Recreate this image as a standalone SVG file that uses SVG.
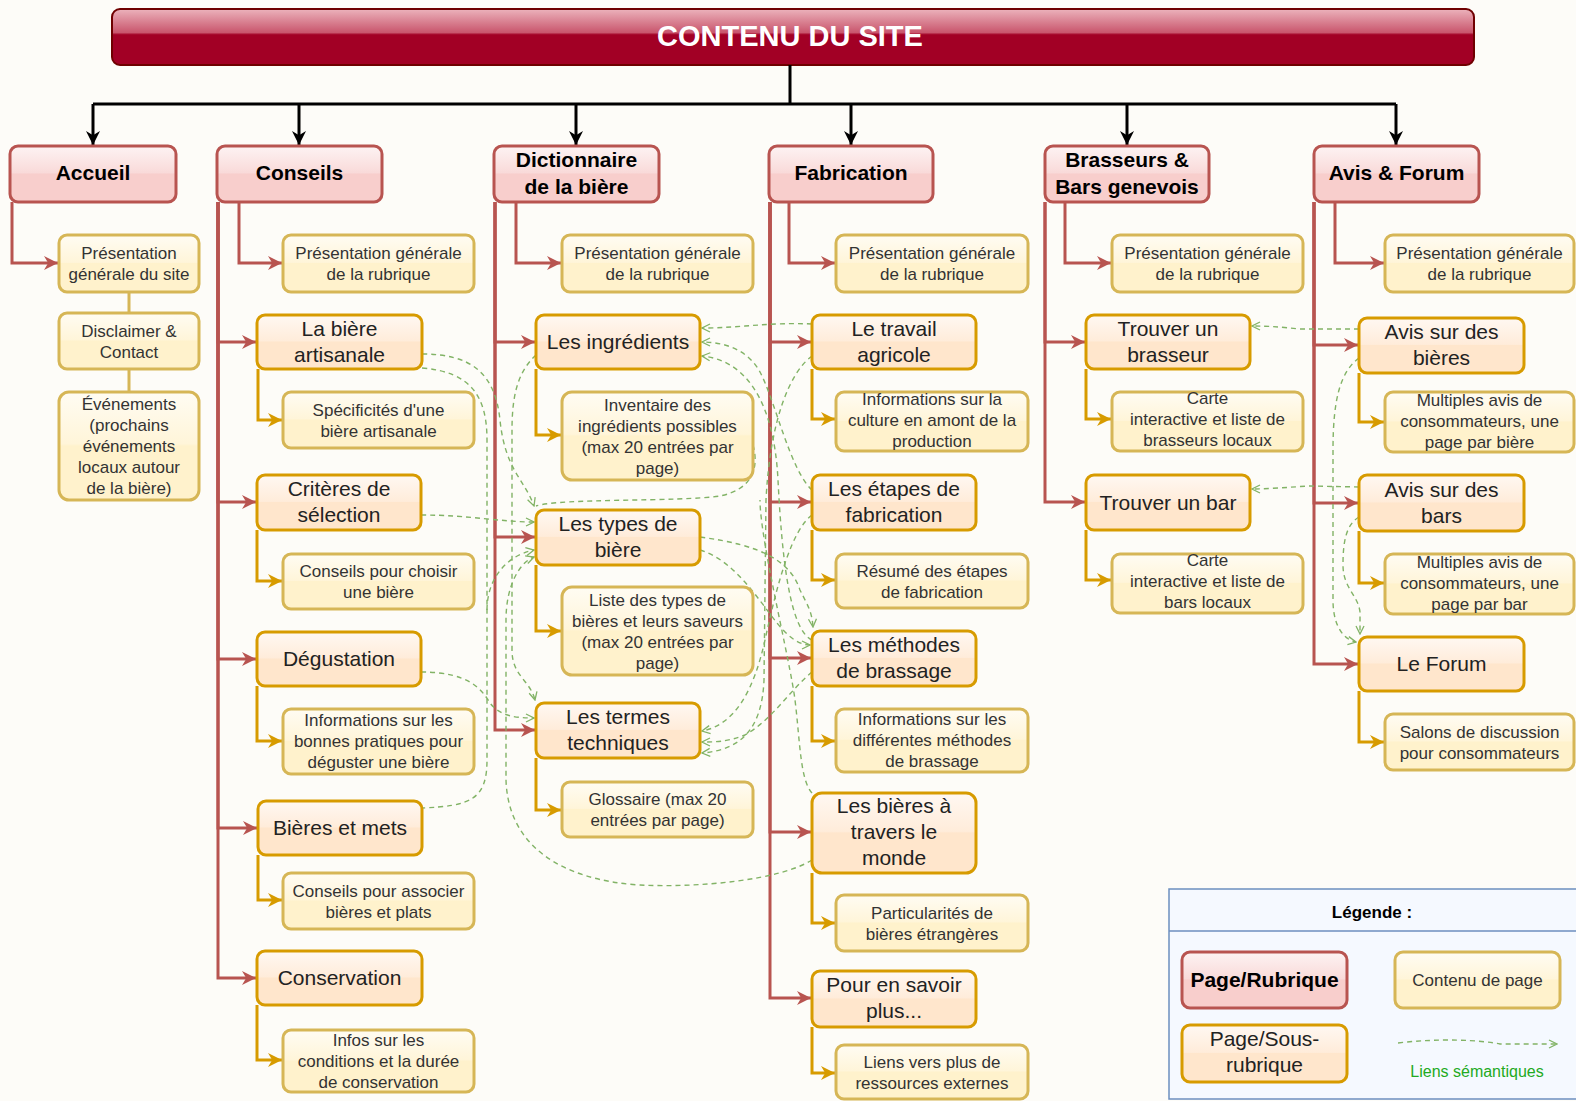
<svg xmlns="http://www.w3.org/2000/svg" width="1576" height="1101" viewBox="0 0 1576 1101">
<defs>
<linearGradient id="gTitle" x1="0" y1="0" x2="0" y2="1">
<stop offset="0" stop-color="#ecb3bc"/><stop offset="0.42" stop-color="#c9566d"/><stop offset="0.46" stop-color="#a20025"/><stop offset="1" stop-color="#a20025"/>
</linearGradient>
<linearGradient id="gRub" x1="0" y1="0" x2="0" y2="1">
<stop offset="0" stop-color="#fdf3f3"/><stop offset="0.48" stop-color="#f9dad9"/><stop offset="0.5" stop-color="#f8cecc"/><stop offset="1" stop-color="#f8cecc"/>
</linearGradient>
<linearGradient id="gSub" x1="0" y1="0" x2="0" y2="1">
<stop offset="0" stop-color="#fff8f2"/><stop offset="0.48" stop-color="#ffecda"/><stop offset="0.5" stop-color="#ffe6cc"/><stop offset="1" stop-color="#ffe6cc"/>
</linearGradient>
<linearGradient id="gCon" x1="0" y1="0" x2="0" y2="1">
<stop offset="0" stop-color="#fffcf3"/><stop offset="0.48" stop-color="#fff5d9"/><stop offset="0.5" stop-color="#fff2cc"/><stop offset="1" stop-color="#fff2cc"/>
</linearGradient>
<marker id="aBlack" viewBox="0 0 10 10" refX="10" refY="5" markerUnits="userSpaceOnUse" markerWidth="14" markerHeight="14" orient="auto"><path d="M0,0 L10,5 L0,10 L3,5 z" fill="#000"/></marker>
<marker id="aRed" viewBox="0 0 10 10" refX="10" refY="5" markerUnits="userSpaceOnUse" markerWidth="14" markerHeight="14" orient="auto"><path d="M0,0 L10,5 L0,10 L3,5 z" fill="#b85450"/></marker>
<marker id="aOr" viewBox="0 0 10 10" refX="10" refY="5" markerUnits="userSpaceOnUse" markerWidth="14" markerHeight="14" orient="auto"><path d="M0,0 L10,5 L0,10 L3,5 z" fill="#d79b00"/></marker>
<marker id="aGr" viewBox="0 0 10 10" refX="9" refY="5" markerUnits="userSpaceOnUse" markerWidth="10" markerHeight="10" orient="auto"><path d="M1,1 L9,5 L1,9" fill="none" stroke="#82b366" stroke-width="1.3"/></marker>
</defs>
<style>
text{font-family:"Liberation Sans",Arial,sans-serif;text-anchor:middle}
.rub rect{fill:url(#gRub);stroke:#b85450;stroke-width:3}
.sub rect{fill:url(#gSub);stroke:#d79b00;stroke-width:3}
.con rect{fill:url(#gCon);stroke:#d6b656;stroke-width:3}
.rub text{font-size:21px;font-weight:bold;fill:#000}
.sub text{font-size:21px;fill:#222}
.con text{font-size:17px;fill:#333}
.blk{fill:none;stroke:#000;stroke-width:3}
.red{fill:none;stroke:#b85450;stroke-width:3}
.org{fill:none;stroke:#d79b00;stroke-width:3}
.yel{fill:none;stroke:#d6b656;stroke-width:3}
.sem{fill:none;stroke:#82b366;stroke-width:1.4;stroke-dasharray:5 4}
</style>
<rect x="0" y="0" width="1576" height="1101" fill="#fdfcf8"/>

<g id="title">
<rect x="112" y="9" width="1362" height="56" rx="8" fill="url(#gTitle)" stroke="#6f0000" stroke-width="2"/>
<text x="790" y="46" font-size="29" font-weight="bold" fill="#fff">CONTENU DU SITE</text>
</g>

<g id="connectors">
<path class="blk" d="M790,65 V104"/>
<path class="blk" d="M93,104 H1396"/>
<path class="blk" d="M93,104 V145" marker-end="url(#aBlack)"/>
<path class="blk" d="M299,104 V145" marker-end="url(#aBlack)"/>
<path class="blk" d="M576,104 V145" marker-end="url(#aBlack)"/>
<path class="blk" d="M851,104 V145" marker-end="url(#aBlack)"/>
<path class="blk" d="M1127,104 V145" marker-end="url(#aBlack)"/>
<path class="blk" d="M1396,104 V145" marker-end="url(#aBlack)"/>

<path class="red" d="M12,202 V263 H58" marker-end="url(#aRed)"/>
<path class="red" d="M239,202 V263 H282" marker-end="url(#aRed)"/>
<path class="red" d="M218,202 V342 H256" marker-end="url(#aRed)"/>
<path class="red" d="M218,202 V502 H256" marker-end="url(#aRed)"/>
<path class="red" d="M218,202 V659 H256" marker-end="url(#aRed)"/>
<path class="red" d="M218,202 V828 H257" marker-end="url(#aRed)"/>
<path class="red" d="M218,202 V978 H256" marker-end="url(#aRed)"/>
<path class="red" d="M516,202 V263 H561" marker-end="url(#aRed)"/>
<path class="red" d="M495,202 V342 H535" marker-end="url(#aRed)"/>
<path class="red" d="M495,202 V537 H535" marker-end="url(#aRed)"/>
<path class="red" d="M495,202 V730 H535" marker-end="url(#aRed)"/>
<path class="red" d="M789,202 V263 H835" marker-end="url(#aRed)"/>
<path class="red" d="M770,202 V342 H811" marker-end="url(#aRed)"/>
<path class="red" d="M770,202 V502 H811" marker-end="url(#aRed)"/>
<path class="red" d="M770,202 V658 H811" marker-end="url(#aRed)"/>
<path class="red" d="M770,202 V832 H811" marker-end="url(#aRed)"/>
<path class="red" d="M770,202 V998 H811" marker-end="url(#aRed)"/>
<path class="red" d="M1065,202 V263 H1111" marker-end="url(#aRed)"/>
<path class="red" d="M1045,202 V342 H1085" marker-end="url(#aRed)"/>
<path class="red" d="M1045,202 V502 H1085" marker-end="url(#aRed)"/>
<path class="red" d="M1335,202 V263 H1384" marker-end="url(#aRed)"/>
<path class="red" d="M1314,202 V345 H1358" marker-end="url(#aRed)"/>
<path class="red" d="M1314,202 V503 H1358" marker-end="url(#aRed)"/>
<path class="red" d="M1314,202 V664 H1358" marker-end="url(#aRed)"/>

<path class="yel" d="M129,292 V313"/>
<path class="yel" d="M129,369 V392"/>

<path class="org" d="M258,369 V420 H282" marker-end="url(#aOr)"/>
<path class="org" d="M257,530 V581 H282" marker-end="url(#aOr)"/>
<path class="org" d="M257,686 V741 H282" marker-end="url(#aOr)"/>
<path class="org" d="M258,855 V900 H282" marker-end="url(#aOr)"/>
<path class="org" d="M257,1005 V1060 H282" marker-end="url(#aOr)"/>
<path class="org" d="M536,369 V435 H561" marker-end="url(#aOr)"/>
<path class="org" d="M536,565 V631 H561" marker-end="url(#aOr)"/>
<path class="org" d="M536,758 V810 H561" marker-end="url(#aOr)"/>
<path class="org" d="M812,369 V419 H835" marker-end="url(#aOr)"/>
<path class="org" d="M812,530 V580 H835" marker-end="url(#aOr)"/>
<path class="org" d="M812,686 V741 H835" marker-end="url(#aOr)"/>
<path class="org" d="M812,873 V923 H835" marker-end="url(#aOr)"/>
<path class="org" d="M812,1027 V1073 H835" marker-end="url(#aOr)"/>
<path class="org" d="M1086,369 V419 H1111" marker-end="url(#aOr)"/>
<path class="org" d="M1086,530 V580 H1111" marker-end="url(#aOr)"/>
<path class="org" d="M1359,373 V422 H1384" marker-end="url(#aOr)"/>
<path class="org" d="M1359,531 V583 H1384" marker-end="url(#aOr)"/>
<path class="org" d="M1359,691 V742 H1384" marker-end="url(#aOr)"/>

<!-- semantic links -->
<path class="sem" d="M422,354 C470,354 495,372 500,420 C505,470 525,480 534,506" marker-end="url(#aGr)"/>
<path class="sem" d="M422,368 C470,372 487,395 487,440 L487,760 C487,800 470,806 422,808"/>
<path class="sem" d="M421,515 C470,515 500,522 534,522" marker-end="url(#aGr)"/>
<path class="sem" d="M421,672 C470,672 482,690 490,703 C500,716 515,718 534,718" marker-end="url(#aGr)"/>
<path class="sem" d="M536,355 C520,370 512,390 512,430 L512,650 C512,676 530,680 535,700" marker-end="url(#aGr)"/>
<path class="sem" d="M487,610 C487,580 505,556 534,550" marker-end="url(#aGr)"/>
<path class="sem" d="M812,860 C780,880 700,888 640,885 C560,880 508,845 506,780 L506,620 C506,585 520,562 534,557" marker-end="url(#aGr)"/>
<path class="sem" d="M812,324 C770,322 740,328 702,328" marker-end="url(#aGr)"/>
<path class="sem" d="M812,490 C790,470 775,400 760,372 C748,350 725,342 702,342" marker-end="url(#aGr)"/>
<path class="sem" d="M812,640 C790,630 782,560 778,480 C774,400 745,360 702,356" marker-end="url(#aGr)"/>
<path class="sem" d="M753,445 C760,470 750,490 720,496 C680,502 560,498 536,506"/>
<path class="sem" d="M700,537 C760,545 790,560 800,590 C808,606 812,612 813,627" marker-end="url(#aGr)"/>
<path class="sem" d="M700,550 C740,562 765,612 785,632 C795,642 803,645 810,645" marker-end="url(#aGr)"/>
<path class="sem" d="M812,672 C790,690 772,720 745,735 C727,742 715,742 702,742" marker-end="url(#aGr)"/>
<path class="sem" d="M812,515 C792,530 778,580 765,640 C754,690 735,725 702,731" marker-end="url(#aGr)"/>
<path class="sem" d="M812,793 C800,780 800,740 795,700 C790,660 760,540 760,500"/>
<path class="sem" d="M812,356 C790,372 770,420 766,500 L764,680 C762,730 740,750 702,753" marker-end="url(#aGr)"/>
<path class="sem" d="M1359,329 L1300,329 C1280,327 1270,326 1252,326" marker-end="url(#aGr)"/>
<path class="sem" d="M1359,487 L1310,486 C1290,487 1270,489 1252,489" marker-end="url(#aGr)"/>
<path class="sem" d="M1359,358 C1340,372 1333,400 1333,450 L1333,600 C1333,628 1345,640 1356,642" marker-end="url(#aGr)"/>
<path class="sem" d="M1359,517 C1345,525 1343,545 1343,565 C1343,588 1358,595 1360,612 L1360,634" marker-end="url(#aGr)"/>
</g>

<!-- Accueil -->
<g id="accueil" class="rub"><rect x="10" y="146" width="166" height="56" rx="8"/><text x="93" y="180">Accueil</text></g>
<g id="acc-presentation" class="con"><rect x="59" y="235" width="140" height="57" rx="8"/><text x="129" y="259">Présentation</text><text x="129" y="280">générale du site</text></g>
<g id="acc-disclaimer" class="con"><rect x="59" y="313" width="140" height="56" rx="8"/><text x="129" y="336.5">Disclaimer &amp;</text><text x="129" y="357.5">Contact</text></g>
<g id="acc-evenements" class="con"><rect x="59" y="392" width="140" height="108" rx="10"/><text x="129" y="410">Événements</text><text x="129" y="431">(prochains</text><text x="129" y="452">événements</text><text x="129" y="473">locaux autour</text><text x="129" y="494">de la bière)</text></g>

<!-- Conseils -->
<g id="conseils" class="rub"><rect x="217" y="146" width="165" height="56" rx="8"/><text x="299.5" y="180">Conseils</text></g>
<g id="cons-presentation" class="con"><rect x="283" y="235" width="191" height="57" rx="8"/><text x="378.5" y="259">Présentation générale</text><text x="378.5" y="280">de la rubrique</text></g>
<g id="biere-artisanale" class="sub"><rect x="257" y="315" width="165" height="54" rx="8"/><text x="339.5" y="335.5">La bière</text><text x="339.5" y="361.5">artisanale</text></g>
<g id="specificites" class="con"><rect x="283" y="392" width="191" height="56" rx="8"/><text x="378.5" y="415.5">Spécificités d'une</text><text x="378.5" y="436.5">bière artisanale</text></g>
<g id="criteres" class="sub"><rect x="257" y="475" width="164" height="55" rx="8"/><text x="339" y="496">Critères de</text><text x="339" y="522">sélection</text></g>
<g id="conseils-choisir" class="con"><rect x="283" y="554" width="191" height="55" rx="8"/><text x="378.5" y="577">Conseils pour choisir</text><text x="378.5" y="598">une bière</text></g>
<g id="degustation" class="sub"><rect x="257" y="632" width="164" height="54" rx="8"/><text x="339" y="666">Dégustation</text></g>
<g id="info-degustation" class="con"><rect x="283" y="709" width="191" height="65" rx="8"/><text x="378.5" y="725.5">Informations sur les</text><text x="378.5" y="746.5">bonnes pratiques pour</text><text x="378.5" y="767.5">déguster une bière</text></g>
<g id="bieres-mets" class="sub"><rect x="258" y="801" width="164" height="54" rx="8"/><text x="340" y="835">Bières et mets</text></g>
<g id="conseils-associer" class="con"><rect x="283" y="873" width="191" height="56" rx="8"/><text x="378.5" y="896.5">Conseils pour associer</text><text x="378.5" y="917.5">bières et plats</text></g>
<g id="conservation" class="sub"><rect x="257" y="951" width="165" height="54" rx="8"/><text x="339.5" y="985">Conservation</text></g>
<g id="infos-conservation" class="con"><rect x="283" y="1030" width="191" height="62" rx="8"/><text x="378.5" y="1046">Infos sur les</text><text x="378.5" y="1067">conditions et la durée</text><text x="378.5" y="1088">de conservation</text></g>

<!-- Dictionnaire -->
<g id="dictionnaire" class="rub"><rect x="494" y="146" width="165" height="56" rx="8"/><text x="576.5" y="166.5">Dictionnaire</text><text x="576.5" y="193.5">de la bière</text></g>
<g id="dict-presentation" class="con"><rect x="562" y="235" width="191" height="57" rx="8"/><text x="657.5" y="259">Présentation générale</text><text x="657.5" y="280">de la rubrique</text></g>
<g id="ingredients" class="sub"><rect x="536" y="315" width="164" height="54" rx="8"/><text x="618" y="349">Les ingrédients</text></g>
<g id="inventaire" class="con"><rect x="562" y="392" width="191" height="88" rx="10"/><text x="657.5" y="410.5">Inventaire des</text><text x="657.5" y="431.5">ingrédients possibles</text><text x="657.5" y="452.5">(max 20 entrées par</text><text x="657.5" y="473.5">page)</text></g>
<g id="types-biere" class="sub"><rect x="536" y="510" width="164" height="55" rx="8"/><text x="618" y="531">Les types de</text><text x="618" y="557">bière</text></g>
<g id="liste-types" class="con"><rect x="562" y="587" width="191" height="88" rx="10"/><text x="657.5" y="605.5">Liste des types de</text><text x="657.5" y="626.5">bières et leurs saveurs</text><text x="657.5" y="647.5">(max 20 entrées par</text><text x="657.5" y="668.5">page)</text></g>
<g id="termes" class="sub"><rect x="536" y="703" width="164" height="55" rx="8"/><text x="618" y="724">Les termes</text><text x="618" y="750">techniques</text></g>
<g id="glossaire" class="con"><rect x="562" y="782" width="191" height="55" rx="8"/><text x="657.5" y="805">Glossaire (max 20</text><text x="657.5" y="826">entrées par page)</text></g>

<!-- Fabrication -->
<g id="fabrication" class="rub"><rect x="769" y="146" width="164" height="56" rx="8"/><text x="851" y="180">Fabrication</text></g>
<g id="fab-presentation" class="con"><rect x="836" y="235" width="192" height="57" rx="8"/><text x="932" y="259">Présentation générale</text><text x="932" y="280">de la rubrique</text></g>
<g id="travail" class="sub"><rect x="812" y="315" width="164" height="54" rx="8"/><text x="894" y="335.5">Le travail</text><text x="894" y="361.5">agricole</text></g>
<g id="info-culture" class="con"><rect x="836" y="392" width="192" height="59" rx="8"/><text x="932" y="405" font-size="16">Informations sur la</text><text x="932" y="426" font-size="16">culture en amont de la</text><text x="932" y="447" font-size="16">production</text></g>
<g id="etapes" class="sub"><rect x="812" y="475" width="164" height="55" rx="8"/><text x="894" y="496">Les étapes de</text><text x="894" y="522">fabrication</text></g>
<g id="resume" class="con"><rect x="836" y="554" width="192" height="54" rx="8"/><text x="932" y="576.5">Résumé des étapes</text><text x="932" y="597.5">de fabrication</text></g>
<g id="methodes" class="sub"><rect x="812" y="631" width="164" height="55" rx="8"/><text x="894" y="652">Les méthodes</text><text x="894" y="678">de brassage</text></g>
<g id="info-methodes" class="con"><rect x="836" y="709" width="192" height="63" rx="8"/><text x="932" y="724.5">Informations sur les</text><text x="932" y="745.5">différentes méthodes</text><text x="932" y="766.5">de brassage</text></g>
<g id="monde" class="sub"><rect x="812" y="793" width="164" height="80" rx="10"/><text x="894" y="813">Les bières à</text><text x="894" y="839">travers le</text><text x="894" y="865">monde</text></g>
<g id="particularites" class="con"><rect x="836" y="895" width="192" height="56" rx="8"/><text x="932" y="918.5">Particularités de</text><text x="932" y="939.5">bières étrangères</text></g>
<g id="savoir-plus" class="sub"><rect x="812" y="971" width="164" height="56" rx="8"/><text x="894" y="992">Pour en savoir</text><text x="894" y="1018">plus...</text></g>
<g id="liens-externes" class="con"><rect x="836" y="1045" width="192" height="54" rx="8"/><text x="932" y="1067.5">Liens vers plus de</text><text x="932" y="1088.5">ressources externes</text></g>

<!-- Brasseurs -->
<g id="brasseurs" class="rub"><rect x="1045" y="146" width="164" height="56" rx="8"/><text x="1127" y="166.5">Brasseurs &amp;</text><text x="1127" y="193.5">Bars genevois</text></g>
<g id="bras-presentation" class="con"><rect x="1112" y="235" width="191" height="57" rx="8"/><text x="1207.5" y="259">Présentation générale</text><text x="1207.5" y="280">de la rubrique</text></g>
<g id="trouver-brasseur" class="sub"><rect x="1086" y="315" width="164" height="54" rx="8"/><text x="1168" y="335.5">Trouver un</text><text x="1168" y="361.5">brasseur</text></g>
<g id="carte-brasseurs" class="con"><rect x="1112" y="392" width="191" height="59" rx="8"/><text x="1207.5" y="404">Carte</text><text x="1207.5" y="425">interactive et liste de</text><text x="1207.5" y="446">brasseurs locaux</text></g>
<g id="trouver-bar" class="sub"><rect x="1086" y="475" width="164" height="55" rx="8"/><text x="1168" y="510">Trouver un bar</text></g>
<g id="carte-bars" class="con"><rect x="1112" y="554" width="191" height="59" rx="8"/><text x="1207.5" y="566">Carte</text><text x="1207.5" y="587">interactive et liste de</text><text x="1207.5" y="608">bars locaux</text></g>

<!-- Avis & Forum -->
<g id="avis-forum" class="rub"><rect x="1314" y="146" width="165" height="56" rx="8"/><text x="1396.5" y="180">Avis &amp; Forum</text></g>
<g id="avis-presentation" class="con"><rect x="1385" y="235" width="189" height="57" rx="8"/><text x="1479.5" y="259">Présentation générale</text><text x="1479.5" y="280">de la rubrique</text></g>
<g id="avis-bieres" class="sub"><rect x="1359" y="318" width="165" height="55" rx="8"/><text x="1441.5" y="339">Avis sur des</text><text x="1441.5" y="365">bières</text></g>
<g id="multiples-bieres" class="con"><rect x="1385" y="392" width="189" height="60" rx="8"/><text x="1479.5" y="406">Multiples avis de</text><text x="1479.5" y="427">consommateurs, une</text><text x="1479.5" y="448">page par bière</text></g>
<g id="avis-bars" class="sub"><rect x="1359" y="475" width="165" height="56" rx="8"/><text x="1441.5" y="496.5">Avis sur des</text><text x="1441.5" y="522.5">bars</text></g>
<g id="multiples-bars" class="con"><rect x="1385" y="554" width="189" height="60" rx="8"/><text x="1479.5" y="568">Multiples avis de</text><text x="1479.5" y="589">consommateurs, une</text><text x="1479.5" y="610">page par bar</text></g>
<g id="forum" class="sub"><rect x="1359" y="637" width="165" height="54" rx="8"/><text x="1441.5" y="671">Le Forum</text></g>
<g id="salons" class="con"><rect x="1385" y="714" width="189" height="56" rx="8"/><text x="1479.5" y="737.5">Salons de discussion</text><text x="1479.5" y="758.5">pour consommateurs</text></g>

<!-- Legend -->
<g id="legend">
<rect x="1169" y="889" width="412" height="210" fill="#f5f9ff" stroke="#6c8ebf" stroke-width="1.5"/>
<line x1="1169" y1="931" x2="1576" y2="931" stroke="#6c8ebf" stroke-width="1.5"/>
<text x="1372" y="918" font-size="17" font-weight="bold" fill="#000">Légende :</text>
<g class="rub"><rect x="1182" y="952" width="165" height="56" rx="8"/><text x="1264.5" y="987" font-size="20">Page/Rubrique</text></g>
<g class="con"><rect x="1395" y="952" width="165" height="56" rx="8"/><text x="1477.5" y="986">Contenu de page</text></g>
<g class="sub"><rect x="1182" y="1025" width="165" height="57" rx="8"/><text x="1264.5" y="1046">Page/Sous-</text><text x="1264.5" y="1072">rubrique</text></g>
<path class="sem" d="M1398,1043 C1440,1038 1480,1040 1500,1044 L1557,1044" marker-end="url(#aGr)"/>
<text x="1477" y="1077" font-size="16" fill="#22aa22">Liens sémantiques</text>
</g>
</svg>
